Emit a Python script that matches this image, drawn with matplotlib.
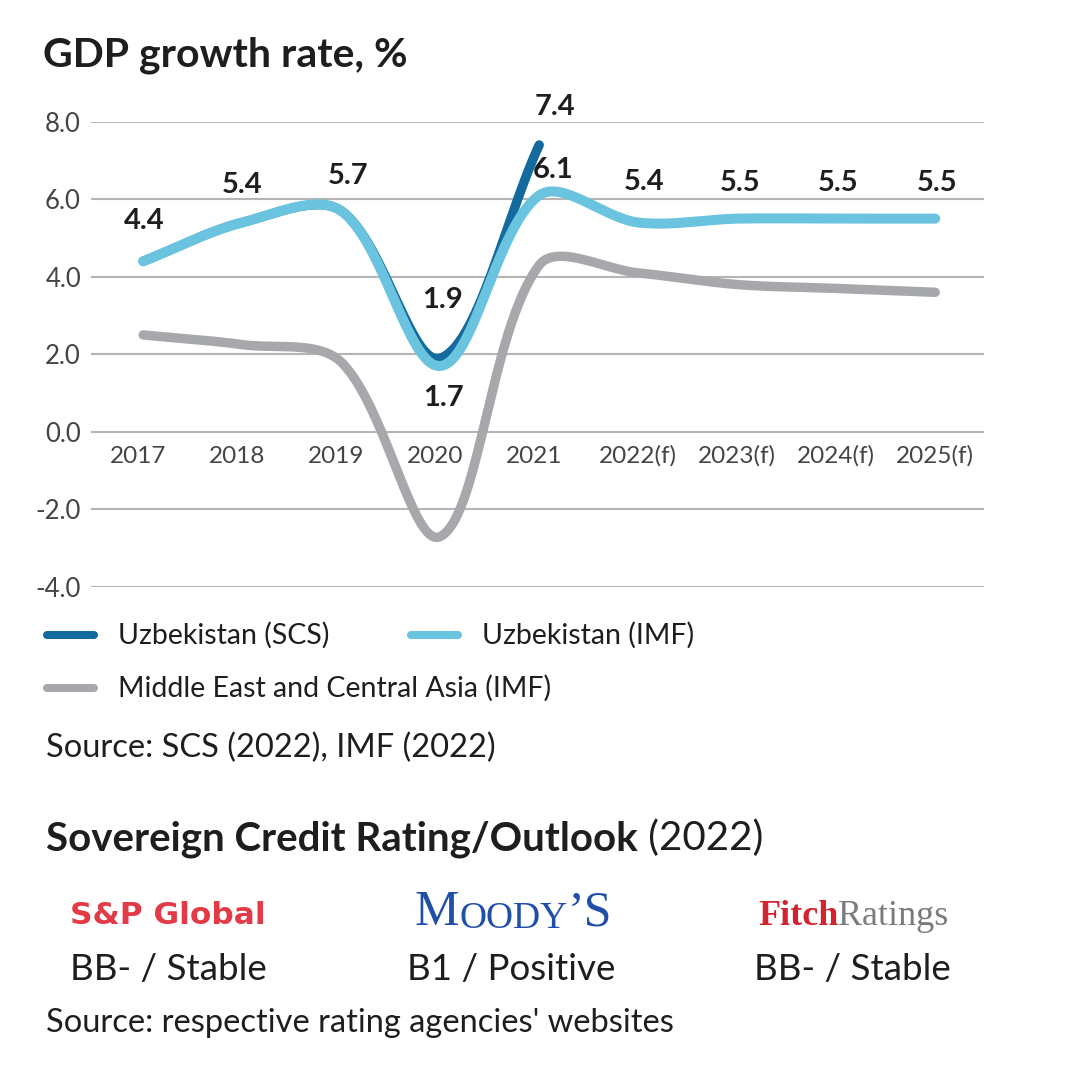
import numpy as np
import matplotlib.pyplot as plt
from matplotlib.lines import Line2D

plt.rcParams['font.family'] = ['Lato', 'DejaVu Sans']

W, H = 1067, 1077

years = ["2017", "2018", "2019", "2020", "2021", "2022(f)", "2023(f)", "2024(f)", "2025(f)"]
uzb_imf = [4.4, 5.4, 5.7, 1.7, 6.1, 5.4, 5.5, 5.5, 5.5]
uzb_scs = [4.4, 5.4, 5.7, 1.9, 7.4]
meca_imf = [2.5, 2.25, 1.8, -2.7, 4.3, 4.1, 3.8, 3.7, 3.6]

agencies = ["S&P Global", "Moody's", "Fitch"]
ratings = ["BB- / Stable", "B1 / Positive", "BB- / Stable"]

DARK = "#136a9c"
LIGHT = "#6ac3df"
GREY = "#a7a8ac"
INK = "#1e1e1e"
TICK = "#444444"

# vertical / horizontal pixel ratio of the plot area, used for the smoothing
ASPECT = 38.6 / 99


def smooth(vals, n=60):
    """Bezier smoothing like a spreadsheet 'smoothed line'."""
    y = np.asarray(vals, float)
    x = np.arange(len(y), dtype=float)
    P = np.column_stack([x, y * ASPECT])
    ext = np.vstack([2 * P[0] - P[1], P, 2 * P[-1] - P[-2]])
    t = np.linspace(0, 1, n)[:, None]
    out = []
    for i in range(len(P) - 1):
        a, b, c, d = ext[i:i + 4]
        l0, l1, l2 = (np.hypot(*(b - a)), np.hypot(*(c - b)), np.hypot(*(d - c)))
        c1 = b + (c - a) * l1 / (l0 + l1) / 3
        c2 = c - (d - b) * l1 / (l1 + l2) / 3
        seg = ((1 - t) ** 3) * b + 3 * ((1 - t) ** 2) * t * c1 + 3 * (1 - t) * t ** 2 * c2 + t ** 3 * c
        out.append(seg)
    pts = np.vstack(out)
    return pts[:, 0], pts[:, 1] / ASPECT


def fx(x):
    return x / W


def fy(y):
    return 1 - y / H


fig = plt.figure(figsize=(W / 100, H / 100), dpi=100)
ax = fig.add_axes([0.085, 0.455, 0.837, 0.432])

# lines
x, y = smooth(meca_imf)
ax.plot(x, y, color=GREY, lw=6.8, solid_capstyle="round", zorder=2)
x, y = smooth(uzb_scs)
ax.plot(x, y, color=DARK, lw=6.8, solid_capstyle="round", zorder=3)
x, y = smooth(uzb_imf)
ax.plot(x, y, color=LIGHT, lw=7.2, solid_capstyle="round", zorder=4)

ax.set_xlim(-0.53, 8.49)
ax.set_ylim(-4, 8)
ax.set_yticks(np.arange(-4, 9, 2))
ax.set_yticklabels([f"{v:.1f}" for v in np.arange(-4, 9, 2)])
ax.set_xticks([])
ax.tick_params(axis="y", length=0, pad=7, labelsize=18.5, labelcolor=TICK)
ax.grid(axis="y", color="#b5b5b5", lw=1.5, zorder=1)
for s in ax.spines.values():
    s.set_visible(False)

# category labels sit under the zero line
for i, yr in enumerate(years):
    ax.annotate(yr, (i, 0), xytext=(-4 if "(f)" not in yr else 0, -17.5),
                textcoords="offset points", ha="center", va="center",
                fontsize=17.5, color=TICK)

# value labels (offsets in points)
imf_off = [(1, 29), (0, 27), (5, 25), (2, -23), (10, 18), (4, 29), (2, 26), (1, 26), (1, 26)]
for i, v in enumerate(uzb_imf):
    dx, dy = imf_off[i]
    ax.annotate(f"{v:.1f}", (i, v), xytext=(dx, dy), textcoords="offset points",
                ha="center", va="center", fontsize=21, fontweight="bold",
                color=INK, annotation_clip=False)
scs_off = {3: (2, 42), 4: (11, 27)}
for i, (dx, dy) in scs_off.items():
    ax.annotate(f"{uzb_scs[i]:.1f}", (i, uzb_scs[i]), xytext=(dx, dy),
                textcoords="offset points", ha="center", va="center",
                fontsize=21, fontweight="bold", color=INK, annotation_clip=False)

# title
fig.text(fx(43), fy(66), "GDP growth rate, %", fontsize=29.5, fontweight="bold",
         color=INK, va="baseline")

# legend
legend_items = [(DARK, "Uzbekistan (SCS)", 47, 635),
                (LIGHT, "Uzbekistan (IMF)", 411, 635),
                (GREY, "Middle East and Central Asia (IMF)", 47, 688)]
for col, lab, x0, y0 in legend_items:
    fig.add_artist(Line2D([fx(x0), fx(x0 + 47)], [fy(y0), fy(y0)], color=col, lw=5.8,
                          solid_capstyle="round", transform=fig.transFigure))
    fig.text(fx(x0 + 71), fy(y0), lab, fontsize=20.5, color=INK, va="center")

fig.text(fx(46), fy(757), "Source: SCS (2022), IMF (2022)", fontsize=23.5,
         color=INK, va="baseline")

# ratings block
t = fig.text(fx(46), fy(850), "Sovereign Credit Rating/Outlook", fontsize=29,
             fontweight="bold", color=INK, va="baseline")
fig.add_artist(plt.Annotation(" (2022)", xy=(1, 0), xycoords=t, va="bottom",
                              ha="left", fontsize=29, color=INK))

centers = [168, 511, 852]
# S&P Global
fig.text(fx(centers[0]), fy(924), agencies[0], fontsize=22.5, fontweight="bold",
         family="DejaVu Sans", color="#e23a46", ha="center", va="baseline")
# Moody's
m = fig.text(fx(415), fy(925), "M", fontsize=36, family="Liberation Serif",
             color="#1f4fa8", va="baseline")
m2 = plt.Annotation("OODY", xy=(1, 0), xycoords=m, va="bottom", ha="left",
                    fontsize=27, family="Liberation Serif", color="#1f4fa8")
fig.add_artist(m2)
fig.add_artist(plt.Annotation("\u2019S", xy=(1, 0), xycoords=m2, va="bottom", ha="left",
                              fontsize=36, family="Liberation Serif", color="#1f4fa8"))
# Fitch Ratings
f1 = fig.text(fx(758), fy(925), "Fitch", fontsize=26, fontweight="bold",
              family="Liberation Serif", color="#d2232e", va="baseline")
fig.add_artist(plt.Annotation("Ratings", xy=(1, 0), xycoords=f1, va="bottom", ha="left",
                              fontsize=26, family="Liberation Serif", color="#7b7b7d"))

for c, r in zip(centers, ratings):
    fig.text(fx(c), fy(980), r, fontsize=26.5, color=INK, ha="center", va="baseline")

fig.text(fx(46), fy(1032), "Source: respective rating agencies' websites", fontsize=23.5,
         color=INK, va="baseline")

fig.savefig("out.png", dpi=100, facecolor="white")
